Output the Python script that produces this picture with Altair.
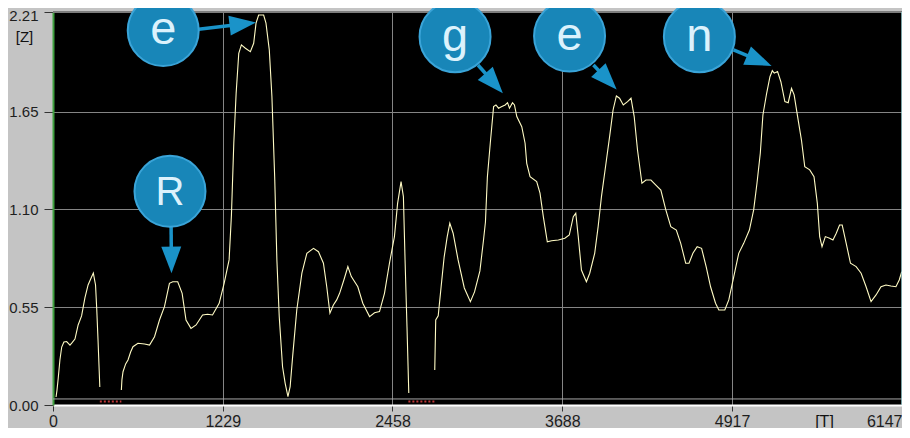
import math
import altair as alt
import pandas as pd

# ---------------- data ----------------
x_max = 6147
y_max = 2.21
x_ticks = [0, 1229, 2458, 3688, 4917, 6147]
y_ticks = [0.0, 0.55, 1.10, 1.65, 2.21]

seg1_t = [22, 29, 38, 50, 63, 79, 99, 123, 137, 159, 182, 207, 231, 254, 279, 292, 308, 317, 326, 339]
seg1_z = [0.045, 0.084, 0.152, 0.253, 0.326, 0.354, 0.357, 0.337, 0.349, 0.371, 0.450, 0.501, 0.602,
          0.675, 0.720, 0.742, 0.675, 0.534, 0.366, 0.101]

seg2_t = [495, 499, 507, 526, 543, 562, 579, 615, 663, 699,
          735, 771, 807, 843, 867, 903, 935, 963, 999, 1036,
          1083, 1119, 1155, 1203, 1239, 1275, 1292, 1309, 1326, 1345,
          1364, 1393, 1429, 1453, 1470, 1489, 1525, 1542, 1566, 1585,
          1605, 1621, 1638, 1662, 1681, 1701, 1717, 1735, 1765, 1802,
          1838, 1886, 1922, 1958, 1982, 2005, 2030, 2054, 2075, 2106,
          2135, 2160, 2207, 2243, 2292, 2328, 2364, 2400, 2436, 2472,
          2495, 2520, 2537, 2549, 2563, 2576]
seg2_z = [0.084, 0.141, 0.187, 0.231, 0.253, 0.298, 0.328, 0.347, 0.343, 0.337,
          0.384, 0.478, 0.553, 0.684, 0.693, 0.693, 0.628, 0.478, 0.431, 0.450,
          0.506, 0.510, 0.506, 0.572, 0.684, 0.816, 1.069, 1.472, 1.753, 1.978,
          2.025, 2.006, 1.987, 2.034, 2.147, 2.193, 2.193, 2.147, 1.997, 1.734,
          1.284, 0.816, 0.497, 0.215, 0.122, 0.047, 0.103, 0.272, 0.534, 0.741,
          0.853, 0.881, 0.862, 0.797, 0.665, 0.516, 0.562, 0.591, 0.628, 0.703,
          0.778, 0.722, 0.665, 0.572, 0.497, 0.519, 0.525, 0.628, 0.797, 0.947,
          1.134, 1.256, 1.172, 0.816, 0.440, 0.067]

seg3_t = [2764, 2771, 2789, 2810, 2832, 2854, 2873, 2897, 2933, 2978,
          3022, 3052, 3091, 3117, 3131, 3145, 3166, 3190, 3207, 3226,
          3250, 3274, 3291, 3305, 3327, 3341, 3358, 3394, 3418, 3430,
          3454, 3502, 3526, 3550, 3579, 3610, 3659, 3706, 3738, 3767,
          3785, 3803, 3826, 3862, 3886, 3922, 3947, 3971, 4007, 4030,
          4055, 4079, 4102, 4129, 4160, 4185, 4208, 4232, 4264, 4293,
          4329, 4365, 4401, 4437, 4473, 4513, 4545, 4581, 4605, 4633,
          4664, 4696, 4729, 4761, 4797, 4821, 4864, 4893, 4929, 4965,
          5001, 5042, 5073, 5097, 5121, 5140, 5167, 5191, 5208, 5222,
          5246, 5270, 5299, 5323, 5347, 5366, 5395, 5419, 5443, 5479,
          5510, 5534, 5551, 5568, 5592, 5623, 5647, 5671, 5695, 5714,
          5743, 5774, 5815, 5851, 5887, 5923, 5959, 5995, 6031, 6067,
          6103, 6127, 6145]
seg3_z = [0.197, 0.478, 0.501, 0.664, 0.832, 0.945, 1.022, 0.966, 0.816, 0.658,
          0.581, 0.636, 0.754, 0.928, 1.029, 1.282, 1.472, 1.678, 1.687, 1.669,
          1.678, 1.687, 1.700, 1.669, 1.700, 1.687, 1.622, 1.565, 1.472, 1.359,
          1.284, 1.256, 1.191, 1.059, 0.918, 0.924, 0.928, 0.938, 0.956, 1.059,
          1.078, 0.947, 0.759, 0.693, 0.741, 0.853, 1.003, 1.172, 1.378, 1.509,
          1.659, 1.738, 1.725, 1.687, 1.706, 1.725, 1.622, 1.434, 1.247, 1.265,
          1.265, 1.237, 1.209, 1.097, 1.003, 0.984, 0.909, 0.797, 0.797, 0.853,
          0.890, 0.881, 0.778, 0.665, 0.572, 0.534, 0.534, 0.591, 0.722, 0.853,
          0.909, 0.984, 1.097, 1.247, 1.416, 1.631, 1.753, 1.846, 1.880, 1.866,
          1.875, 1.818, 1.706, 1.700, 1.781, 1.744, 1.603, 1.490, 1.340, 1.322,
          1.284, 1.134, 0.947, 0.890, 0.947, 0.938, 0.928, 0.966, 1.012, 1.012,
          0.909, 0.797, 0.778, 0.741, 0.665, 0.581, 0.619, 0.665, 0.675, 0.669,
          0.665, 0.703, 0.750]

baseline_z = 0.034
silence_t = [[339, 495], [2573, 2765]]
silence_z = 0.02

labels = ["e", "R", "g", "e", "n"]
label_t = [798, 847, 2911, 3740, 4680]
label_z = [2.106, 1.202, 2.071, 2.075, 2.071]
arrow_t0 = [1054, 855, 3077, 3913, 4927]
arrow_z0 = [2.113, 1.003, 1.912, 1.912, 1.997]
arrow_t1 = [1470, 858, 3257, 4081, 5203]
arrow_z1 = [2.151, 0.741, 1.753, 1.774, 1.907]

# ---------------- layout / style ----------------
W, H = 849, 393
FONT = "Liberation Sans"
BLUE = "#1a93c9"
HEAD = 26.6

rows = []
for k, (ts, zs) in enumerate([(seg1_t, seg1_z), (seg2_t, seg2_z), (seg3_t, seg3_z)]):
    for t, z in zip(ts, zs):
        rows.append({"t": t, "z": z, "seg": k})
line_df = pd.DataFrame(rows)

sil_rows = []
for k, (a, b) in enumerate(silence_t):
    sil_rows.append({"t": a, "z": silence_z, "seg": k})
    sil_rows.append({"t": b, "z": silence_z, "seg": k})
sil_df = pd.DataFrame(sil_rows)

sx, sy = W / x_max, H / y_max
shaft_rows, head_rows = [], []
for t0, z0, t1, z1 in zip(arrow_t0, arrow_z0, arrow_t1, arrow_z1):
    dxp = (t1 - t0) * sx
    dyp = -(z1 - z0) * sy
    L = math.hypot(dxp, dyp)
    ux, uy = dxp / L, dyp / L
    ct = t1 - (HEAD / 2) * ux / sx
    cz = z1 + (HEAD / 2) * uy / sy
    ang = math.degrees(math.atan2(ux, -uy)) % 360
    shaft_rows.append({"t": t0, "z": z0, "t2": ct, "z2": cz})
    head_rows.append({"t": ct, "z": cz, "ang": ang})
shaft_df = pd.DataFrame(shaft_rows)
head_df = pd.DataFrame(head_rows)
lab_df = pd.DataFrame({"t": label_t, "z": label_z, "letter": labels})

xs = alt.Scale(domain=[0, x_max], nice=False, zero=False)
ys = alt.Scale(domain=[0, y_max], nice=False)

xaxis = alt.Axis(
    values=x_ticks, format="d", title="[T]", titleX=771, titleY=16,
    titleAlign="center", titleBaseline="middle", titleFontSize=16,
    titleFontWeight="normal", titleColor="#111111", titleFont=FONT,
    labelFont=FONT, labelFontSize=16, labelColor="#1e1e1e", labelPadding=2,
    labelAlign={"condition": {"test": "datum.value >= 6147", "value": "right"}, "value": "center"},
    labelOverlap=False, labelFlush=False,
    tickSize=6, tickColor="#333333", domainColor="#ffffff", domainWidth=2,
    grid=True, gridColor="#858585", gridWidth=1,
)
yaxis = alt.Axis(
    values=y_ticks, format=".2f", title="[Z]", titleAngle=0, titleX=-29, titleY=24,
    titleAlign="center", titleBaseline="middle", titleFontSize=15,
    titleFontWeight="normal", titleColor="#111111", titleFont=FONT,
    labelFont=FONT, labelFontSize=15, labelColor="#1e1e1e", labelPadding=6,
    labelOffset={"condition": {"test": "datum.value >= 2.2", "value": 3}, "value": 0},
    labelOverlap=False, labelFlush=False,
    tickSize=9, tickColor="#333333", domainColor="#3f9f3f", domainWidth=2,
    grid=True, gridColor="#858585", gridWidth=1,
)


def X(field="t"):
    return alt.X(f"{field}:Q", scale=xs, axis=xaxis)


def Y(field="z"):
    return alt.Y(f"{field}:Q", scale=ys, axis=yaxis)


line = alt.Chart(line_df).mark_line(color="#fffbc4", strokeWidth=1.1).encode(
    x=X(), y=Y(), detail="seg:N")

base_rule = alt.Chart(pd.DataFrame({"z": [baseline_z]})).mark_rule(
    color="#a8a8a8", strokeWidth=1).encode(y=Y())

sil = alt.Chart(sil_df).mark_line(color="#c03838", strokeWidth=2, strokeDash=[2, 2]).encode(
    x=X(), y=Y(), detail="seg:N")

top_rule = alt.Chart(pd.DataFrame({"z": [y_max]})).mark_rule(
    color="#7d7d7d", strokeWidth=2).encode(y=Y())
right_rule = alt.Chart(pd.DataFrame({"t": [x_max]})).mark_rule(
    color="#9fd4d8", strokeWidth=1.5).encode(x=X())

shafts = alt.Chart(shaft_df).mark_rule(color=BLUE, strokeWidth=3.5).encode(
    x=X(), y=Y(), x2="t2:Q", y2="z2:Q")

heads = alt.Chart(head_df).mark_point(
    shape="M0,-1L-0.75,1L0.75,1Z", filled=True, size=708, color=BLUE, opacity=1
).encode(x=X(), y=Y(), angle=alt.Angle("ang:Q", scale=None))

circles = alt.Chart(lab_df).mark_circle(
    size=5041, color="#1886b8", opacity=1, stroke="#3aa4d8", strokeWidth=2
).encode(x=X(), y=Y())

letters = alt.Chart(lab_df).mark_text(
    font=FONT, color="#dcf2fc", baseline="alphabetic", align="center", dy=14
).encode(
    x=X(), y=Y(), text="letter:N",
    size=alt.condition("datum.letter == 'R'", alt.value(40), alt.value(47)),
)

chart = alt.layer(
    line, base_rule, sil, top_rule, right_rule, shafts, heads, circles, letters
).properties(
    width=W, height=H,
    padding={"left": 45, "top": 4, "right": 0, "bottom": 23},
    autosize=alt.AutoSizeParams(type="none"),
).configure(background="#c4c4c4").configure_view(fill="#000000", stroke="transparent")

chart.save("out.html", embed_options={"renderer": "svg", "actions": False})
